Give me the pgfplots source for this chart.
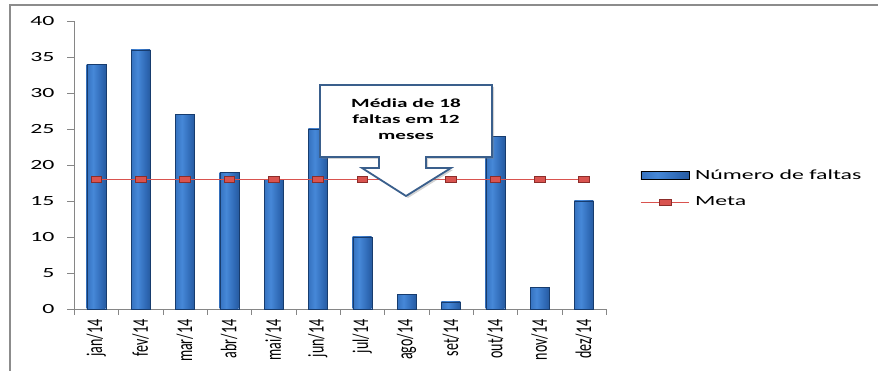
\documentclass[border=0pt]{standalone}
\usepackage{fontspec}
\usepackage{graphicx}
\usepackage{pgfplots}
\pgfplotsset{compat=1.18}
\usetikzlibrary{shadows}
\setmainfont{Carlito}
\newfontfamily\wfont[FakeStretch=1.7]{Carlito}
\definecolor{bardark}{HTML}{173C6E}
\definecolor{barmid}{HTML}{2E68B4}
\definecolor{barlight}{HTML}{4688D8}
\definecolor{metared}{HTML}{D9534F}
\definecolor{metadark}{HTML}{8C2D2A}
\definecolor{framegray}{HTML}{8C8C8C}
\definecolor{axisgray}{HTML}{868686}
\definecolor{calloutblue}{HTML}{3A5F8C}
\pgfdeclarehorizontalshading{barshade}{100bp}{color(0bp)=(bardark); color(18bp)=(barmid); color(42bp)=(barlight); color(65bp)=(barmid); color(100bp)=(bardark)}
\newcommand\xl[1]{\scalebox{1}[1.6]{#1}}
\pgfplotsset{
  barleg/.style={legend image code/.code={\fill[shading=barshade] (0pt,-4pt) rectangle (48pt,4pt); \path (52pt,0pt);}},
  metaleg/.style={legend image code/.code={\draw[metared, line width=1.2pt] (0pt,0pt)--(48pt,0pt); \fill[metared, draw=metadark] (18pt,-3pt) rectangle (30pt,3pt); \path (52pt,0pt);}},
  onebar/.style={ybar, bar width=19pt, draw=bardark, line width=0.3pt, shading=barshade, forget plot}
}
\begin{document}
\begin{tikzpicture}[x=1pt,y=1pt]
\useasboundingbox (0,0) rectangle (878,371);
\draw[framegray, line width=1.5pt] (10,0) -- (10,366) -- (878,366);
\begin{axis}[
  at={(74pt,62pt)}, anchor=south west,
  scale only axis, width=532pt, height=288pt,
  xmin=-0.5, xmax=11.5, ymin=0, ymax=40,
  ytick={0,5,...,40},
  xtick={0,...,11},
  xticklabels={\xl{jan/14},\xl{fev/14},\xl{mar/14},\xl{abr/14},\xl{mai/14},\xl{jun/14},\xl{jul/14},\xl{ago/14},\xl{set/14},\xl{out/14},\xl{nov/14},\xl{dez/14}},
  axis lines*=left,
  axis line style={draw=axisgray},
  tick align=outside,
  major tick length=7pt,
  ytick style={draw=axisgray},
  xtick style={draw=none},
  extra x ticks={-0.5,0.5,...,11.5},
  extra x tick labels={},
  extra x tick style={xtick style={draw=axisgray}, major tick length=6pt},
  /pgf/number format/assume math mode=true,
  y tick label style={font=\wfont\fontsize{14}{16}\selectfont, xshift=-9pt},
  x tick label style={rotate=90, anchor=east, font=\fontsize{14}{16}\selectfont},
  clip=false,
  legend style={at={(1.064,0.418)}, anchor=west, draw=none, fill=none,
    font=\wfont\fontsize{14}{16}\selectfont, row sep=12pt, inner sep=0pt,
    cells={anchor=west, inner sep=2pt}},
]
\addplot[onebar] coordinates {(0,34)};
\addplot[onebar] coordinates {(1,36)};
\addplot[onebar] coordinates {(2,27)};
\addplot[onebar] coordinates {(3,19)};
\addplot[onebar] coordinates {(4,18)};
\addplot[onebar] coordinates {(5,25)};
\addplot[onebar] coordinates {(6,10)};
\addplot[onebar] coordinates {(7,2)};
\addplot[onebar] coordinates {(8,1)};
\addplot[onebar] coordinates {(9,24)};
\addplot[onebar] coordinates {(10,3)};
\addplot[onebar] coordinates {(11,15)};
\addlegendimage{barleg}
\addlegendentry{Número de faltas}
\addlegendimage{metaleg}
\addlegendentry{Meta}
\addplot[color=metared, line width=1.2pt, no marks, forget plot]
  coordinates {(0,18)(1,18)(2,18)(3,18)(4,18)(5,18)(6,18)(7,18)(8,18)(9,18)(10,18)(11,18)};
\addplot[only marks, mark=square*, mark size=3pt, color=metared,
  mark options={fill=metared, draw=metadark, line width=0.4pt, xscale=1.8}, forget plot]
  coordinates {(0,18)(1,18)(2,18)(3,18)(4,18)(5,18)(6,18)(7,18)(8,18)(9,18)(10,18)(11,18)};
\end{axis}
\draw[calloutblue, line width=1.8pt, fill=white, line join=miter,
  drop shadow={opacity=0.35, shadow xshift=2pt, shadow yshift=-2pt}]
  (320,286) -- (492,286) -- (492,214) -- (426,214) -- (426,203) -- (451,203)
  -- (406,175) -- (362,203) -- (379,203) -- (379,214) -- (320,214) -- cycle;
\node[font=\wfont\bfseries\fontsize{12.5}{16}\selectfont, align=center] at (406,252) {Média de 18\\faltas em 12\\meses};
\end{tikzpicture}
\end{document}
